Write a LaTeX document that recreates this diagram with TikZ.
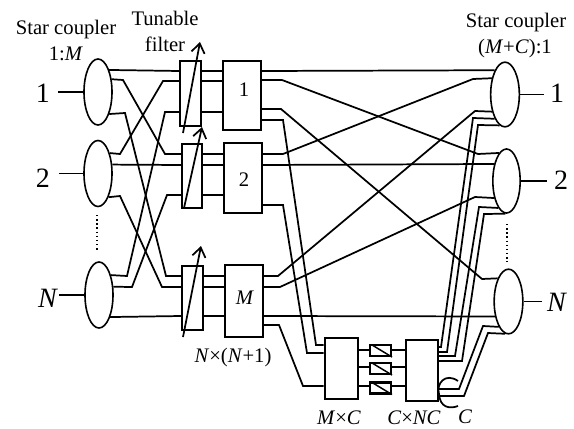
\documentclass[tikz,border=0pt]{standalone}
\usepackage{fontspec}
\setmainfont{Liberation Serif}
\usetikzlibrary{arrows.meta,shapes.geometric}
\tikzset{
  wire/.style={line width=1.3pt},
  coupler/.style={draw, ellipse, line width=1.2pt, inner sep=0pt},
  tuner/.style={draw, line width=1.3pt, inner sep=0pt},
  switchbox/.style={draw, line width=1.7pt, inner sep=0pt},
  gate/.style={draw, line width=1.8pt, inner sep=0pt},
  smalltext/.style={inner sep=0pt, font=\fontsize{15.5}{18}\selectfont},
  bigtext/.style={inner sep=0pt, font=\fontsize{21}{24}\selectfont}
}
\begin{document}
\begin{tikzpicture}[x=0.75pt, y=-0.75pt, >={Straight Barb[length=7pt,width=10pt]}]
    \useasboundingbox (0,0) rectangle (574,428);
    % カプラ
    \node[coupler, minimum width=21, minimum height=49.5] (inA) at (98,92) {};
    \node[coupler, minimum width=21, minimum height=49.5] (inB) at (98,173.5) {};
    \node[coupler, minimum width=21, minimum height=49.5] (inN) at (99,295) {};
    \node[coupler, minimum width=21.5, minimum height=48.5] (outA) at (505,94.5) {};
    \node[coupler, minimum width=20.5, minimum height=48] (outB) at (506.5,181) {};
    \node[coupler, minimum width=21.5, minimum height=48.5] (outN) at (508.5,301.5) {};

    % フィルタとスイッチ
    \node[tuner, minimum width=15.5, minimum height=48.5] (flt1) at (190.5,93.5) {};
    \node[tuner, minimum width=15, minimum height=48] (flt2) at (192,176) {};
    \node[tuner, minimum width=15.5, minimum height=48] (flt3) at (192.5,298) {};
    \node[switchbox, minimum width=28.5, minimum height=52] (box1) at (242,95.5) {};
    \node[switchbox, minimum width=28.5, minimum height=52] (box2) at (243,178) {};
    \node[switchbox, minimum width=28.5, minimum height=54] (box3) at (244,301) {};
    \node[switchbox, minimum width=25, minimum height=46] (mxc) at (341.5,368.5) {};
    \node[switchbox, minimum width=24, minimum height=46] (cxnc) at (422,370.5) {};
    \node[gate, minimum width=15.5, minimum height=8] (att1) at (380.5,350.5) {};
    \node[gate, minimum width=15.5, minimum height=8] (att2) at (380.5,368.5) {};
    \node[gate, minimum width=15.5, minimum height=8] (att3) at (380.5,388) {};
    \foreach \k in {1,2,3} \draw[line width=1.1pt] (att\k.north west) ++(3,1) -- (att\k.south east);

    % 入出力
    \node[bigtext] (num1) at (43,93) {1};
    \node[bigtext] (num2) at (43,178) {2};
    \node[bigtext] (numN) at (48,298) {\textit{N}};
    \node[bigtext] (num4) at (557,93) {1};
    \node[bigtext] (num5) at (561,180) {2};
    \node[bigtext] (numM) at (557,302) {\textit{N}};
    \draw[wire] (inA.west) -- ++(-25,0);
    \draw[wire] (inB.west) -- ++(-24,0);
    \draw[wire] (inN.west) -- ++(-25,0);
    \draw[wire] (outA.east) -- ++(24,0);
    \draw[wire] (outB.east) -- ++(26,0);
    \draw[wire] (outN.east) -- ++(18,0);

    % 左側の配線
    \draw[wire] (inA.63) -- (flt1.west |- 0,71);
    \draw[wire] (inA.43) -- (123,80) -- (165,154) -- (flt2.west |- 0,154);
    \draw[wire] (inA.-63) -- (125,113) -- (166,276) -- (flt3.west |- 0,276);
    \draw[wire] (inB.60) -- (120,154) -- (163,81) -- (flt1.west |- 0,81);
    \draw[wire] (inB.32) -- (flt2.west |- 0,165);
    \draw[wire] (inB.-66) -- (120,196) -- (162,287) -- (flt3.west |- 0,287);
    \draw[wire] (inN.59) -- (127,276) -- (165,112) -- (flt1.west |- 0,112);
    \draw[wire] (inN.30) -- (132,287) -- (167,195) -- (flt2.west |- 0,195);
    \draw[wire] (inN.-63) -- (flt3.west |- 0,316);

    % フィルタからスイッチへ
    \foreach \y in {71,81,112} \draw[wire] (flt1.east |- 0,\y) -- (box1.west |- 0,\y);
    \foreach \y in {154,165,195} \draw[wire] (flt2.east |- 0,\y) -- (box2.west |- 0,\y);
    \foreach \y in {276,287,316} \draw[wire] (flt3.east |- 0,\y) -- (box3.west |- 0,\y);

    % 可変の矢印
    \draw[wire, ->] (183,133) -- (200,42);
    \draw[wire, ->] (184,208) -- (202,127);
    \draw[wire, ->] (183,337) -- (201,246);

    % 右側の配線
    \draw[wire] (box1.east |- 0,71) -- (outA.113);
    \draw[wire] (box1.east |- 0,80) -- (282,80) -- (478,154) -- (outB.105);
    \draw[wire] (box1.east |- 0,109) -- (281,109) -- (482,279) -- (outN.115);
    \draw[wire] (box1.east |- 0,120) -- (283,120) -- (316,345) -- (mxc.west |- 0,345);
    \draw[wire] (box2.east |- 0,154) -- (283,154) -- (473,79) -- (outA.129);
    \draw[wire] (box2.east |- 0,165) -- (outB.126);
    \draw[wire] (box2.east |- 0,205) -- (283,205) -- (307,353) -- (mxc.west |- 0,353);
    \draw[wire] (box3.east |- 0,276) -- (278,276) -- (475,111) -- (outA.233);
    \draw[wire] (box3.east |- 0,287) -- (280,287) -- (475,197) -- (outB.234);
    \draw[wire] (box3.east |- 0,316) -- (outN.228);
    \draw[wire] (box3.east |- 0,325) -- (279,325) -- (303,386) -- (mxc.west |- 0,386);

    % 下段の配線
    \foreach \y/\k in {350/1,367/2,386/3} {
      \draw[wire] (mxc.east |- 0,\y) -- (att\k.west |- 0,\y);
      \draw[wire] (att\k.east |- 0,\y) -- (cxnc.west |- 0,\y);
    }
    \draw[wire] (cxnc.east |- 0,347) -- (441,347) -- (473,118) -- (outA.247);
    \draw[wire] (cxnc.east |- 0,352) -- (447,352) -- (478,125) -- (outA.260);
    \draw[wire] (cxnc.east |- 0,356) -- (455,356) -- (479,207) -- (outB.253);
    \draw[wire] (cxnc.east |- 0,361) -- (462,361) -- (484,214) -- (outB.268);
    \draw[wire] (cxnc.east |- 0,389) -- (459,389) -- (483,326) -- (outN.249);
    \draw[wire] (cxnc.east |- 0,396) -- (464,396) -- (488,333) -- (outN.264);
    \coordinate (arcC) at (458,381);
    \coordinate (arcD) at (458,406);
    \draw[wire] (arcC) .. controls (445,372) and (436,384) .. (439,394) .. controls (440,408) and (450,409) .. (arcD);

    % 点線
    \coordinate (dotA) at (97,215);
    \coordinate (dotB) at (97,252);
    \coordinate (dotC) at (507,224);
    \coordinate (dotD) at (507,262);
    \draw[line width=1.1pt, dotted] (dotA) -- (dotB);
    \draw[line width=1.1pt, dotted] (dotC) -- (dotD);

    % 文字
    \node[smalltext] (txtA) at (66,30) {Star coupler};
    \node[smalltext] (txtB) at (66,54) {1:\textit{M}};
    \node[smalltext] (txtC) at (165,18) {Tunable};
    \node[smalltext] (txtD) at (165,44) {filter};
    \node[smalltext] (txtE) at (516,23) {Star coupler};
    \node[smalltext] (txtF) at (515,49) {(\textit{M}+\textit{C}):1};
    \node[smalltext] (txtG) at (244,90) {1};
    \node[smalltext] (txtH) at (244,180) {2};
    \node[smalltext] (txtI) at (245,298) {\textit{M}};
    \node[smalltext] (txtJ) at (233,358) {\textit{N}×(\textit{N}+1)};
    \node[smalltext] (txtK) at (339,418) {\textit{M}×\textit{C}};
    \node[smalltext] (txtL) at (414,418) {\textit{C}×\textit{NC}};
    \node[smalltext] (txtM) at (465,417) {\textit{C}};
  \end{tikzpicture}
\end{document}
